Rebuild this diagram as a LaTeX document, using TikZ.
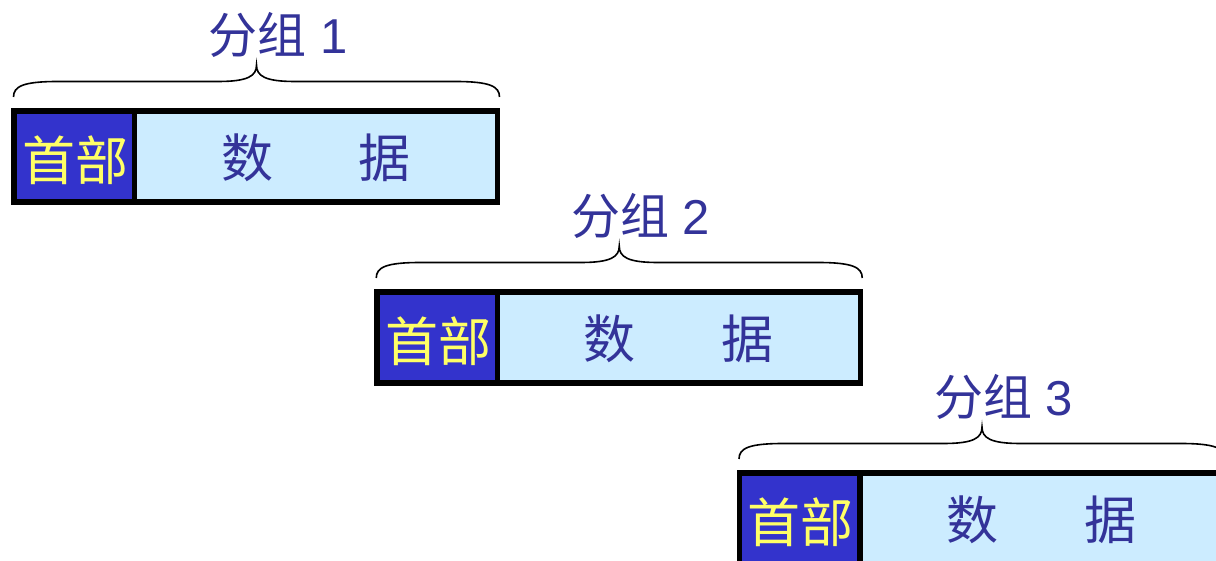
\documentclass[tikz,border=0pt]{standalone}
\usepackage{fontspec}
\setmainfont{Liberation Sans}
\newfontfamily\cjk{Noto Sans CJK SC}
\definecolor{hdrfill}{HTML}{3333CC}
\definecolor{datfill}{HTML}{CCECFF}
\definecolor{txtblue}{HTML}{333399}
\definecolor{hdrtxt}{HTML}{FFFF66}
\begin{document}
\begin{tikzpicture}[x=1pt,y=-1pt,
  frame/.style={draw=black,line width=5.5pt,rectangle,inner sep=0pt,outer sep=0pt,minimum height=91pt,anchor=north west},
  hdr/.style={frame,fill=hdrfill,minimum width=120.3pt,text=hdrtxt,font=\cjk\fontsize{53}{60}\selectfont},
  dat/.style={frame,fill=datfill,minimum width=363pt,text=txtblue,font=\cjk\fontsize{52}{60}\selectfont},
  lab/.style={text=txtblue,font=\fontsize{49}{56}\selectfont,inner sep=0pt},
  bracepath/.style={draw=black,line width=1.6pt}]
\useasboundingbox (0,0) rectangle (1216,561);
\clip (0,0) rectangle (1216,561);
\fill[white] (0,0) rectangle (1216,561);
\foreach \i/\k in {0/1,1/2,2/3}{
  \pgfmathsetmacro\xo{362.75*\i}
  \pgfmathsetmacro\yo{181*\i}
  \begin{scope}[shift={(\xo,\yo)}]
    \node[dat] (d\k) at (134.5,111) {\raisebox{-21pt}[0pt][0pt]{数\hspace{86pt}据}};
    \node[hdr] (h\k) at (14.2,111) {\hspace{2pt}\raisebox{-24pt}[0pt][0pt]{首部}};
    \draw[bracepath] (13.5,97) .. controls (13.5,86) and (24,81.5) .. (58,81.5)
      -- (218,81.5) .. controls (248,81.5) and (256.5,76) .. (256.5,65)
      .. controls (256.5,76) and (265,81.5) .. (295,81.5)
      -- (455,81.5) .. controls (489,81.5) and (499.5,86) .. (499.5,97);
    \node[lab] (l\k) at (278,35) {{\cjk 分组} \k};
  \end{scope}
}
\end{tikzpicture}
\end{document}
